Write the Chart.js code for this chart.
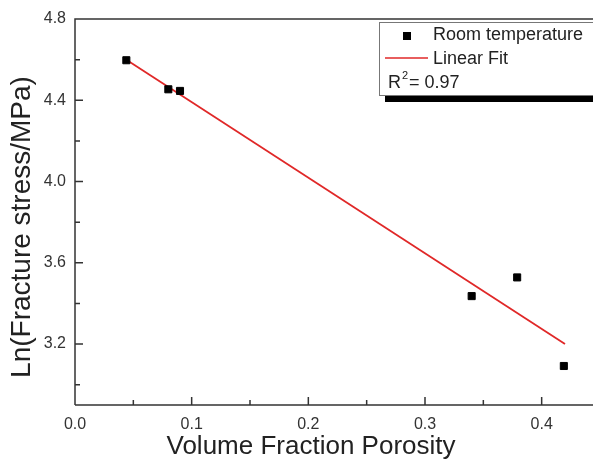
<!DOCTYPE html>
<html>
<head>
<meta charset="utf-8">
<title>Ln(Fracture stress) vs porosity</title>
<script src="https://cdn.jsdelivr.net/npm/chart.js@4/dist/chart.umd.min.js"></script>
<style>
  html, body { margin: 0; padding: 0; background: #fff; }
  #wrap { width: 593px; height: 459px; }
</style>
</head>
<body>
<div id="wrap"><canvas id="chart" width="593" height="459"></canvas></div>
<script>
// data
const porosity = [0.044, 0.080, 0.090, 0.340, 0.379, 0.419];
const lnStress = [4.597, 4.454, 4.446, 3.436, 3.528, 3.092];
const fitX = [0.044, 0.420];
const fitY = [4.600, 3.200];

const xTicks = [0.0, 0.1, 0.2, 0.3, 0.4];
const xMinorTicks = [0.05, 0.15, 0.25, 0.35];
const yTicks = [3.2, 3.6, 4.0, 4.4, 4.8];
const yMinorTicks = [3.0, 3.4, 3.8, 4.2, 4.6];

const FONT = "'Liberation Sans', Arial, sans-serif";
const AXIS = "#333";

// frame, inward ticks, titles and legend box
const decor = {
  id: "decor",
  afterDraw(chart) {
    const ctx = chart.ctx;
    const a = chart.chartArea;
    const xs = chart.scales.x, ys = chart.scales.y;
    ctx.save();
    ctx.strokeStyle = AXIS;
    ctx.lineWidth = 1.5;
    ctx.beginPath();
    ctx.moveTo(a.left, a.bottom); ctx.lineTo(a.left, a.top); ctx.lineTo(a.right, a.top);
    ctx.moveTo(a.left, a.bottom); ctx.lineTo(a.right, a.bottom);
    // ticks
    xTicks.forEach(v => { const p = xs.getPixelForValue(v); ctx.moveTo(p, a.bottom); ctx.lineTo(p, a.bottom - 8); });
    xMinorTicks.forEach(v => { const p = xs.getPixelForValue(v); ctx.moveTo(p, a.bottom); ctx.lineTo(p, a.bottom - 5); });
    yTicks.forEach(v => { const p = ys.getPixelForValue(v); ctx.moveTo(a.left, p); ctx.lineTo(a.left + 8, p); });
    yMinorTicks.forEach(v => { const p = ys.getPixelForValue(v); ctx.moveTo(a.left, p); ctx.lineTo(a.left + 5, p); });
    ctx.stroke();

    // axis titles
    ctx.fillStyle = "#222";
    ctx.textAlign = "center";
    ctx.textBaseline = "middle";
    ctx.font = "26px " + FONT;
    ctx.fillText("Volume Fraction Porosity", 311, 447);
    ctx.save();
    ctx.translate(22, 227);
    ctx.rotate(-Math.PI / 2);
    ctx.font = "28px " + FONT;
    ctx.fillText("Ln(Fracture stress/MPa)", 0, 0);
    ctx.restore();

    // legend
    const bx = 379, by = 22, bw = 230, bh = 73;
    ctx.fillStyle = "#000";
    ctx.fillRect(bx + 6, by + 6, bw, bh + 1);
    ctx.fillStyle = "#fff";
    ctx.fillRect(bx, by, bw, bh);
    ctx.strokeStyle = "#777";
    ctx.lineWidth = 1;
    ctx.strokeRect(bx + 0.5, by + 0.5, bw, bh);

    ctx.fillStyle = "#000";
    ctx.fillRect(403, 32, 8, 8);
    ctx.strokeStyle = "#e02828";
    ctx.lineWidth = 1.5;
    ctx.beginPath(); ctx.moveTo(385, 58); ctx.lineTo(428, 58); ctx.stroke();

    ctx.fillStyle = "#222";
    ctx.textAlign = "left";
    ctx.font = "18px " + FONT;
    ctx.fillText("Room temperature", 433, 35);
    ctx.fillText("Linear Fit", 433, 59);
    ctx.fillText("R", 388, 83);
    const rw = ctx.measureText("R").width;
    ctx.font = "11px " + FONT;
    ctx.fillText("2", 388 + rw + 1, 76);
    ctx.font = "18px " + FONT;
    ctx.fillText("= 0.97", 388 + rw + 8, 83);
    ctx.restore();
  }
};

new Chart(document.getElementById("chart"), {
  type: "scatter",
  data: {
    datasets: [
      {
        label: "Room temperature",
        data: porosity.map((x, i) => ({ x: x, y: lnStress[i] })),
        pointStyle: "rect",
        pointRadius: 5,
        pointBorderWidth: 1,
        backgroundColor: "#000",
        borderColor: "#000",
        order: 1
      },
      {
        label: "Linear Fit",
        data: fitX.map((x, i) => ({ x: x, y: fitY[i] })),
        showLine: true,
        pointRadius: 0,
        borderColor: "#e02828",
        borderWidth: 1.8,
        order: 2
      }
    ]
  },
  options: {
    responsive: false,
    animation: false,
    devicePixelRatio: 1,
    layout: { autoPadding: false, padding: { top: 19, right: 0, left: 0, bottom: 0 } },
    plugins: { legend: { display: false }, tooltip: { enabled: false } },
    scales: {
      x: {
        type: "linear",
        min: 0,
        max: 0.444,
        grid: { display: false },
        border: { display: false },
        afterBuildTicks: s => { s.ticks = xTicks.map(v => ({ value: v })); },
        afterFit: s => { s.height = 54; },
        ticks: {
          padding: 2,
          color: AXIS,
          font: { family: FONT, size: 16 },
          callback: v => Number(v).toFixed(1)
        }
      },
      y: {
        type: "linear",
        min: 2.9,
        max: 4.8,
        grid: { display: false },
        border: { display: false },
        afterBuildTicks: s => { s.ticks = yTicks.map(v => ({ value: v })); },
        afterFit: s => { s.width = 75; },
        ticks: {
          padding: 1,
          color: AXIS,
          font: { family: FONT, size: 16 },
          callback: v => Number(v).toFixed(1)
        }
      }
    }
  },
  plugins: [decor]
});
</script>
</body>
</html>
